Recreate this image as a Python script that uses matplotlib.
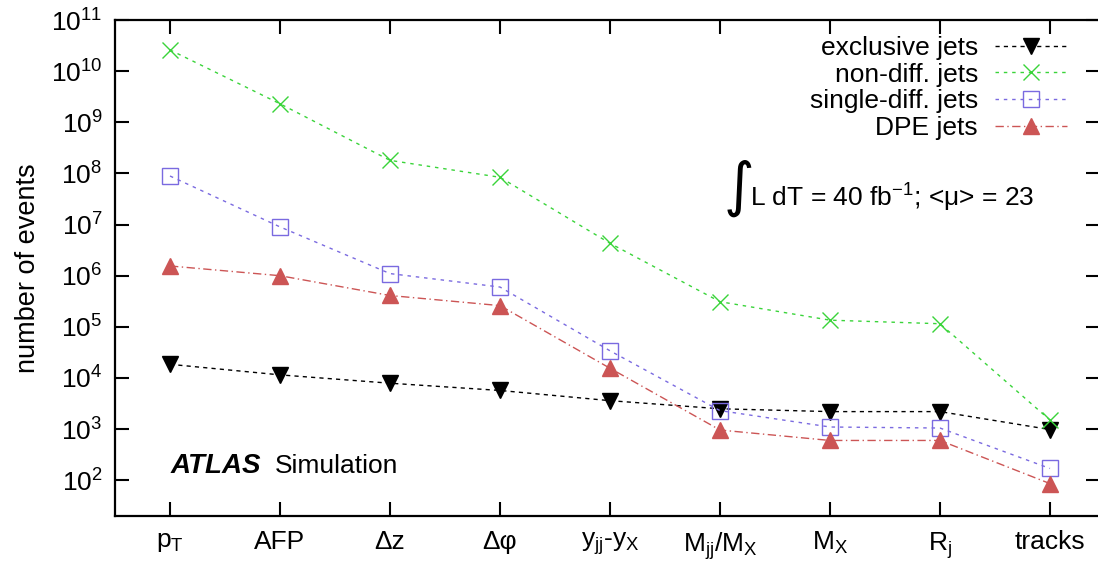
import numpy as np
import matplotlib
matplotlib.use("Agg")
import matplotlib.pyplot as plt

plt.rcParams['font.family'] = ['Liberation Sans', 'DejaVu Sans']
plt.rcParams['mathtext.fontset'] = 'custom'
plt.rcParams['mathtext.rm'] = 'Liberation Sans'
plt.rcParams['mathtext.it'] = 'Liberation Sans'
plt.rcParams['mathtext.bf'] = 'Liberation Sans:bold'

# categories (x axis)
categories = [r'$\mathregular{p_T}$', 'AFP', 'Δz', 'Δφ',
              r'$\mathregular{y_{jj}}$-$\mathregular{y_X}$',
              r'$\mathregular{M_{jj}/M_X}$', r'$\mathregular{M_X}$',
              r'$\mathregular{R_j}$', 'tracks']

# number of events after each cut
exclusive = [1.85e4, 1.15e4, 7.9e3, 5.7e3, 3.6e3, 2.5e3, 2.2e3, 2.2e3, 9.8e2]
non_diff = [2.6e10, 2.3e9, 1.8e8, 8.4e7, 4.3e6, 3.1e5, 1.35e5, 1.15e5, 1.5e3]
single_diff = [8.9e7, 9.0e6, 1.1e6, 6.0e5, 3.4e4, 2.3e3, 1.1e3, 1.05e3, 1.7e2]
dpe = [1.55e6, 1.0e6, 4.1e5, 2.6e5, 1.55e4, 9.6e2, 6.0e2, 6.0e2, 8.6e1]

x = np.arange(len(categories))

fig = plt.figure(figsize=(10.98, 5.65), dpi=100)
ax = fig.add_axes([115 / 1098, 1 - 516 / 565, 985 / 1098, 496 / 565])

ax.plot(x, exclusive, color='black', lw=1.0, dashes=(3, 3),
        marker='v', ms=11, mfc='black', mec='black', label='exclusive jets')
ax.plot(x, non_diff, color='#3ad43a', lw=1.0, dashes=(2.5, 3.5),
        marker='x', ms=12, mew=1.0, label='non-diff. jets')
ax.plot(x, single_diff, color='#7a6ae0', lw=1.0, dashes=(2.5, 3.5),
        marker='s', ms=11, mew=1.0, mfc='none', label='single-diff. jets')
ax.plot(x, dpe, color='#cc5555', lw=1.0, dashes=(6, 2.5, 1, 2.5),
        marker='^', ms=11, mec='#cc5555', label='DPE jets')

ax.set_yscale('log')
ax.set_ylim(20, 1e11)
ax.set_xlim(-0.5, 8.4545)
ax.set_yticks([10.0 ** k for k in range(2, 12)])
ax.yaxis.set_minor_locator(matplotlib.ticker.NullLocator())
ax.set_xticks(x)
ax.set_xticklabels(categories)

ax.tick_params(axis='both', which='major', direction='in', length=10, width=1.5,
               top=True, right=True, labelsize=19)
ax.tick_params(axis='y', pad=9)
ax.tick_params(axis='x', pad=10)
for s in ax.spines.values():
    s.set_linewidth(1.6)

ax.set_ylabel('number of events', fontsize=19.5, labelpad=7)

leg = ax.legend(loc='upper right', bbox_to_anchor=((1067 - 115) / 985, 0.968),
                markerfirst=False, frameon=False, fontsize=19,
                handlelength=2.73, handletextpad=0.64, labelspacing=0.1,
                borderaxespad=0, borderpad=0)

# luminosity / pileup note
fig.text(723 / 1098, 1 - 189 / 565, r'$\int$', fontsize=30, va='center', ha='left',
         math_fontfamily='dejavusans')
fig.text(750 / 1098, 1 - 207 / 565, r'L dT = 40 fb$^{\mathregular{-1}}$; <μ> = 23',
         fontsize=19, va='baseline', ha='left')

fig.text(171 / 1098, 1 - 473 / 565, 'ATLAS', fontsize=20, fontweight='bold',
         fontstyle='italic', va='baseline', ha='left')
fig.text(275 / 1098, 1 - 473 / 565, 'Simulation', fontsize=19,
         va='baseline', ha='left')

fig.savefig('out.png', dpi=100)
